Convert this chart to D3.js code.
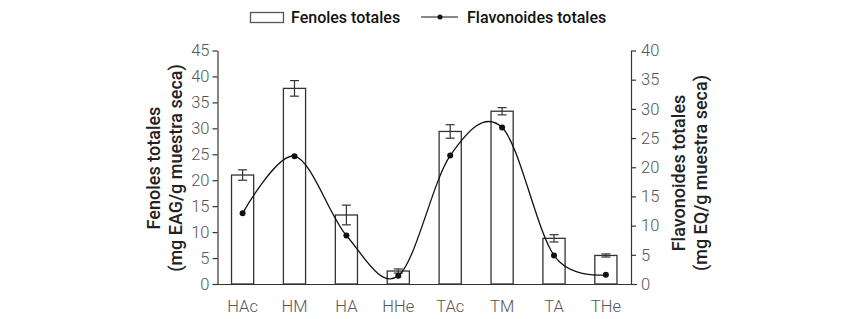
<!DOCTYPE html>
<html><head><meta charset="utf-8">
<script src="https://cdn.jsdelivr.net/npm/d3@7"></script>
<style>
body{margin:0;background:#fff;}
svg text{font-family:Roboto,"Noto Sans",sans-serif;}
</style></head>
<body><svg id="c" width="851" height="319"></svg>
<script>
const categories = ["HAc","HM","HA","HHe","TAc","TM","TA","THe"];
const fenoles = [21.0, 37.7, 13.3, 2.5, 29.4, 33.3, 8.8, 5.5];
const fenolesErr = [1.0, 1.5, 1.9, 0.4, 1.3, 0.7, 0.7, 0.3];
const flavonoides = [12.1, 21.9, 8.3, 1.4, 22.0, 26.8, 4.9, 1.6];
const leftTicks = [0,5,10,15,20,25,30,35,40,45];
const rightTicks = [0,5,10,15,20,25,30,35,40];

const svg = d3.select("#c");
const x0 = 217.5, x1 = 631, yb = 284, yt = 50.5;
const x = d3.scaleBand().domain(categories).range([x0, x1]).paddingInner(0.573).paddingOuter(0.27);
const yL = d3.scaleLinear().domain([0,45]).range([yb, yt]);
const yR = d3.scaleLinear().domain([0,40]).range([yb, yt]);

const ink = "#333";
const axL = svg.append("g").attr("transform",`translate(${x0},0)`)
  .call(d3.axisLeft(yL).tickValues(leftTicks).tickSize(5).tickPadding(3).tickSizeOuter(0));
const axR = svg.append("g").attr("transform",`translate(${x1},0)`)
  .call(d3.axisRight(yR).tickValues(rightTicks).tickSize(5).tickPadding(5).tickSizeOuter(0));
const axB = svg.append("g").attr("transform",`translate(0,${yb})`)
  .call(d3.axisBottom(x).tickSize(0).tickPadding(16));
[axL,axR,axB].forEach(a=>{
  a.selectAll("path,line").attr("stroke",ink).attr("stroke-width",1.2);
  a.selectAll("text").attr("fill","#555").attr("font-size",16.5).attr("font-weight",300);
});
axB.select("path.domain").attr("d",`M${x0-4},0.5H${x1+6}`);

svg.append("g").selectAll("rect").data(categories).join("rect")
  .attr("x",d=>x(d)).attr("width",x.bandwidth())
  .attr("y",(d,i)=>yL(fenoles[i])).attr("height",(d,i)=>yb-yL(fenoles[i]))
  .attr("fill","#fff").attr("stroke",ink).attr("stroke-width",1.3);

const eg = svg.append("g").attr("stroke",ink).attr("stroke-width",1.2);
categories.forEach((c,i)=>{
  const cx = x(c)+x.bandwidth()/2, hi = yL(fenoles[i]+fenolesErr[i]), lo = yL(fenoles[i]-fenolesErr[i]);
  eg.append("line").attr("x1",cx).attr("x2",cx).attr("y1",hi).attr("y2",lo);
  eg.append("line").attr("x1",cx-4.5).attr("x2",cx+4.5).attr("y1",hi).attr("y2",hi);
  eg.append("line").attr("x1",cx-4.5).attr("x2",cx+4.5).attr("y1",lo).attr("y2",lo);
});

const pts = categories.map((c,i)=>[x(c)+x.bandwidth()/2, yR(flavonoides[i])]);
svg.append("path").datum(pts).attr("d",d3.line().curve(d3.curveCardinal.tension(0)))
  .attr("fill","none").attr("stroke","#111").attr("stroke-width",1.3);
svg.append("g").selectAll("circle").data(pts).join("circle")
  .attr("cx",d=>d[0]).attr("cy",d=>d[1]).attr("r",3).attr("fill","#111");

const tL = svg.append("text").attr("transform",`translate(160,${168}) rotate(-90)`)
  .attr("text-anchor","middle").attr("font-size",18).attr("font-weight",500).attr("fill","#222");
tL.append("tspan").attr("x",0).attr("dy",0).text("Fenoles totales");
tL.append("tspan").attr("x",0).attr("dy",21.5).text("(mg EAG/g muestra seca)");
const tR = svg.append("text").attr("transform",`translate(685,${173}) rotate(-90)`)
  .attr("text-anchor","middle").attr("font-size",18).attr("font-weight",500).attr("fill","#222");
tR.append("tspan").attr("x",0).attr("dy",0).text("Flavonoides totales");
tR.append("tspan").attr("x",0).attr("dy",21.5).text("(mg EQ/g muestra seca)");

const lg = svg.append("g");
lg.append("rect").attr("x",250.5).attr("y",12.5).attr("width",33).attr("height",10)
  .attr("fill","#fff").attr("stroke","#555").attr("stroke-width",1.3);
lg.append("text").attr("x",291).attr("y",23).attr("font-size",16).attr("font-weight",500).attr("fill","#111").text("Fenoles totales");
lg.append("line").attr("x1",421).attr("x2",458).attr("y1",17).attr("y2",17).attr("stroke","#111").attr("stroke-width",1.2);
lg.append("circle").attr("cx",440).attr("cy",17).attr("r",2.5).attr("fill","#111");
lg.append("text").attr("x",467).attr("y",23).attr("font-size",16).attr("font-weight",500).attr("fill","#111").text("Flavonoides totales");
</script></body></html>
